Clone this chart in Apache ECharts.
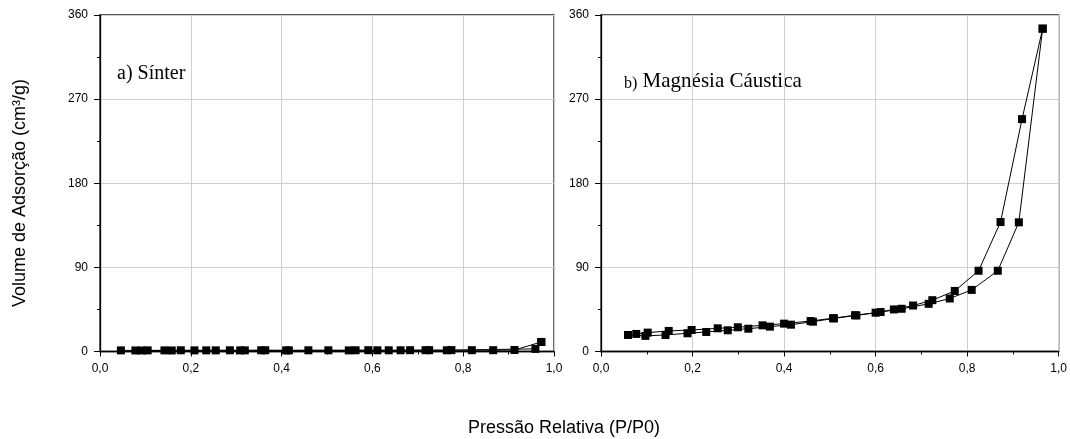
<!DOCTYPE html>
<html>
<head>
<meta charset="utf-8">
<script src="https://cdn.jsdelivr.net/npm/echarts@6/dist/echarts.min.js"></script>
<style>
html,body{margin:0;padding:0;background:#fff;}
#c{width:1070px;height:439px;}
</style>
</head>
<body>
<div id="c"></div>
<script>
// ---- data ----
const sinterAdsP = [0.046,0.091,0.142,0.178,0.234,0.286,0.319,0.364,0.416,0.503,0.548,0.611,0.662,0.717,0.764,0.819,0.866,0.913,0.972];
const sinterAdsV = [1.2,1.1,1.2,1.3,1.2,1.3,1.2,1.3,1.2,1.3,1.2,1.3,1.3,1.4,1.3,1.4,1.4,1.6,10.2];
const sinterDesP = [0.972,0.959,0.774,0.725,0.683,0.636,0.591,0.563,0.459,0.410,0.355,0.309,0.255,0.208,0.158,0.105,0.078];
const sinterDesV = [10.2,2.8,1.5,1.4,1.4,1.3,1.4,1.3,1.3,1.2,1.3,1.2,1.2,1.2,1.1,1.2,1.1];

const magAdsP = [0.059,0.097,0.141,0.189,0.230,0.277,0.322,0.369,0.415,0.463,0.509,0.558,0.611,0.657,0.716,0.762,0.810,0.867,0.913,0.965];
const magAdsV = [17.7,16.7,17.7,19.5,20.9,22.7,24.4,26.6,28.7,31.9,35.4,38.6,42.2,45.7,51.0,56.7,65.9,86.4,138.2,345.4];
const magDesP = [0.965,0.920,0.873,0.825,0.773,0.724,0.682,0.640,0.600,0.555,0.507,0.458,0.400,0.353,0.299,0.255,0.198,0.148,0.102,0.077];
const magDesV = [345.4,248.6,138.5,86.4,64.8,54.9,49.2,45.0,41.5,38.8,35.6,32.6,29.8,28.0,25.9,24.8,23.0,22.0,20.2,18.8];

const xTitle = 'Pressão Relativa (P/P0)';
const yTitle = 'Volume de Adsorção (cm³/g)';
const labelA = 'a) Sínter';
const labelB1 = 'b)';
const labelB2 = ' Magnésia Cáustica';

// ---- chart ----
function pairs(xs, ys){ return xs.map((x,i)=>[x, ys[i]]); }
const FONT = 'Arial, "Liberation Sans", sans-serif';
const SERIF = '"Times New Roman", "Liberation Serif", serif';

function xAxis(gi){
  return {
    type:'value', gridIndex:gi, min:0, max:1, interval:0.2,
    axisLine:{show:true, onZero:false, lineStyle:{color:'#000', width:1.3}},
    axisTick:{show:true, inside:false, length:5, lineStyle:{color:'#000'}},
    minorTick:{show:true, splitNumber:2, length:3, lineStyle:{color:'#000'}},
    splitLine:{show:true, lineStyle:{color:'#cfcfcf', width:1}},
    axisLabel:{color:'#000', fontSize:12, fontFamily:FONT, margin:11,
      formatter:v=>v.toFixed(1).replace('.',',')}
  };
}
function yAxis(gi){
  return {
    type:'value', gridIndex:gi, min:0, max:360, interval:90,
    axisLine:{show:true, onZero:false, lineStyle:{color:'#000', width:1.3}},
    axisTick:{show:true, inside:false, length:6, lineStyle:{color:'#000'}},
    minorTick:{show:true, splitNumber:2, length:3, lineStyle:{color:'#000'}},
    splitLine:{show:true, lineStyle:{color:'#cfcfcf', width:1}},
    axisLabel:{color:'#000', fontSize:12, fontFamily:FONT, margin:12}
  };
}
function lineSeries(gi, data){
  return {
    type:'line', xAxisIndex:gi, yAxisIndex:gi, data:data,
    symbol:'rect', symbolSize:8, showAllSymbol:true,
    itemStyle:{color:'#000'}, lineStyle:{color:'#000', width:1},
    emphasis:{disabled:true}, silent:true
  };
}

const chart = echarts.init(document.getElementById('c'), null, {renderer:'canvas'});
chart.setOption({
  animation:false,
  backgroundColor:'#fff',
  grid:[
    {left:100, top:15, width:454, height:336.5, show:true, borderColor:'#222', borderWidth:1.3, backgroundColor:'transparent', containLabel:false},
    {left:601, top:15, width:460, height:336.5, show:true, borderColor:'#222', borderWidth:1.3, backgroundColor:'transparent', containLabel:false}
  ],
  xAxis:[xAxis(0), xAxis(1)],
  yAxis:[yAxis(0), yAxis(1)],
  series:[
    lineSeries(0, pairs(sinterAdsP, sinterAdsV)),
    lineSeries(0, pairs(sinterDesP, sinterDesV)),
    lineSeries(1, pairs(magAdsP, magAdsV)),
    lineSeries(1, pairs(magDesP, magDesV))
  ],
  graphic:[
    {type:'text', left:117, top:64, style:{text:labelA, fill:'#000', font:'20px '+SERIF}},
    {type:'text', left:624, top:71, style:{
      text:'{s|'+labelB1+'}{b|'+labelB2+'}',
      rich:{s:{fontSize:16, fontFamily:SERIF, fill:'#000', verticalAlign:'bottom'}, b:{fontSize:21, fontFamily:SERIF, fill:'#000'}}
    }},
    {type:'text', x:564, y:428, style:{text:xTitle, fill:'#000', font:'18px '+FONT, align:'center', verticalAlign:'middle'}},
    {type:'text', x:20, y:193, rotation:Math.PI/2, style:{text:yTitle, fill:'#000', font:'18px '+FONT, align:'center', verticalAlign:'middle'}}
  ]
});
</script>
</body>
</html>
